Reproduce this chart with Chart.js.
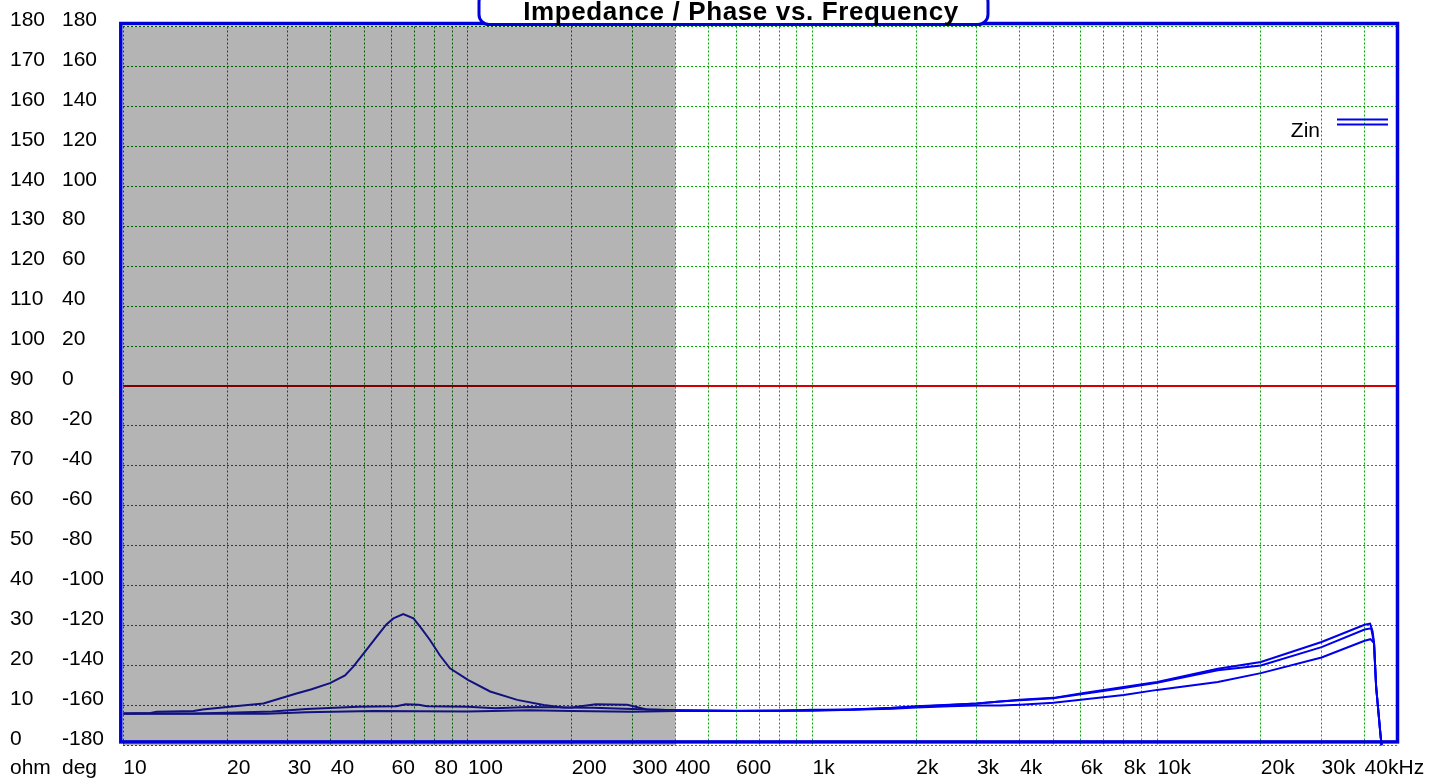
<!DOCTYPE html>
<html>
<head>
<meta charset="utf-8">
<title>Impedance / Phase vs. Frequency</title>
<script src="https://cdn.jsdelivr.net/npm/chart.js@4.4.1/dist/chart.umd.min.js"></script>
<style>
  html, body { margin: 0; padding: 0; background: #fff; overflow: hidden; }
  #wrap { width: 1429px; height: 782px; }
</style>
</head>
<body>
<div id="wrap"><canvas id="chart" width="1429" height="782"></canvas></div>
<script>
// impedance plot: three Zin sweeps (ohm) plus the phase line (deg), log frequency axis

const chartTitle = 'Impedance / Phase vs. Frequency';
const greyEnd = 400; // Hz, shaded band runs from the left edge up to here

// sweep 1 (the one with the bass resonance)
const freqA = [10, 12, 12.5, 16, 17, 20, 25.5, 31.8, 35, 39.8, 44, 46.5, 50.3, 54.3, 58, 60.8, 64.9, 69.5,
  73, 77.6, 83, 88.7, 100, 116, 139, 166, 189, 230, 300, 400, 600, 800, 1000, 1300, 1700, 2000, 2500, 3000,
  3500, 4000, 5000, 6000, 8000, 10000, 15000, 20000, 30000, 40000, 41500, 42200, 42600, 43200, 43900, 44400, 44800];
const zinA = [8.0, 8.1, 8.4, 8.6, 9.0, 9.6, 10.5, 13.0, 14.0, 15.6, 17.5, 19.7, 23.5, 27.2, 30.3, 31.8, 32.9, 31.8,
  29.5, 26.4, 22.5, 19.3, 16.4, 13.5, 11.4, 10.1, 9.5, 9.4, 9.1, 8.8, 8.7, 8.7, 8.9, 9.0, 9.4, 9.8, 10.2, 10.5,
  11.0, 11.4, 11.9, 13.0, 14.6, 15.9, 19.2, 20.9, 25.9, 30.2, 30.5, 28.5, 25.6, 14.7, 8.1, 3.4, 0];

// sweep 2
const freqB = [10, 16, 20, 27, 34, 48, 62, 66, 72, 76, 100, 120, 150, 200, 235, 290, 330, 400, 600, 1000, 1300,
  1700, 2000, 2500, 3000, 3500, 4000, 5000, 6000, 8000, 10000, 15000, 20000, 30000, 40000, 41800, 42600, 43200,
  43900, 44400, 44800];
const zinB = [8.0, 8.0, 8.2, 8.5, 9.1, 9.7, 9.8, 10.3, 10.2, 9.8, 9.7, 9.3, 9.6, 9.5, 10.3, 10.2, 9.0, 8.8, 8.6, 8.8, 9.0,
  9.3, 9.7, 10.1, 10.5, 11.0, 11.3, 11.8, 12.8, 14.4, 15.7, 18.8, 20.0, 24.6, 29.0, 29.3, 25.6, 14.7,
  8.1, 3.4, 0];

// sweep 3
const freqC = [10, 26, 34, 53, 100, 150, 200, 300, 400, 600, 1000, 1300, 1700, 2000, 2500, 3000, 3500, 4000, 5000,
  6000, 8000, 10000, 15000, 20000, 30000, 40000, 41600, 42600, 43200, 43900, 44400, 44800];
const zinC = [7.9, 7.9, 8.3, 8.6, 8.5, 8.8, 8.6, 8.4, 8.6, 8.6, 8.7, 8.9, 9.2, 9.5, 9.8, 10.0, 10.0, 10.2, 10.7,
  11.4, 12.6, 13.9, 15.9, 18.1, 22.0, 26.2, 26.6, 25.6, 14.7, 8.1, 3.4, 0];

// phase trace
const phaseFreq = [10, 50000];
const phaseDeg = [0, 0];

// axes
const freqMin = 10, freqMax = 50000;
const ohmMin = 0, ohmMax = 180, ohmStep = 10;
const degMin = -180, degMax = 180, degStep = 20;
const xGridFreqs = [10, 20, 30, 40, 50, 60, 70, 80, 90, 100, 200, 300, 400, 500, 600, 700, 800, 900,
  1000, 2000, 3000, 4000, 5000, 6000, 7000, 8000, 9000, 10000, 20000, 30000, 40000];
const xLabelFreqs = [10, 20, 30, 40, 60, 80, 100, 200, 300, 400, 600, 1000, 2000, 3000, 4000, 6000, 8000,
  10000, 20000, 30000, 40000];
const xLabelTexts = ['10', '20', '30', '40', '60', '80', '100', '200', '300', '400', '600', '1k', '2k', '3k',
  '4k', '6k', '8k', '10k', '20k', '30k', '40kHz'];

const FONT = "'Liberation Sans', Arial, sans-serif";
const greyFill = '#b4b4b4';
const gridDark = '#005c00', gridLight = '#00aa00';
const traceDark = '#12127e', traceLight = '#0000ee';
const phaseDark = '#7c0000', phaseLight = '#d20000';
const frameBlue = '#0000d8';

const toPoints = (xs, ys) => xs.map((x, i) => ({ x, y: ys[i] }));

// left of greyEnd one colour, right of it another (same as the old plot does over the grey band)
function splitStroke(chart, darkCol, lightCol) {
  const area = chart.chartArea;
  const xs = chart.scales && chart.scales.x;
  if (!area || !xs) return lightCol;
  const split = xs.getPixelForValue(greyEnd);
  const t = Math.min(Math.max((split - area.left) / (area.right - area.left), 0), 1);
  const g = chart.ctx.createLinearGradient(area.left, 0, area.right, 0);
  g.addColorStop(0, darkCol);
  g.addColorStop(t, darkCol);
  g.addColorStop(t, lightCol);
  g.addColorStop(1, lightCol);
  return g;
}

const backdrop = {
  id: 'backdrop',
  beforeDraw(chart) {
    const { ctx, chartArea: a, scales: { x } } = chart;
    ctx.save();
    ctx.fillStyle = '#fff';
    ctx.fillRect(0, 0, chart.width, chart.height);
    ctx.fillStyle = greyFill;
    ctx.fillRect(a.left, a.top, x.getPixelForValue(greyEnd) - a.left, a.bottom - a.top);
    ctx.restore();
  }
};

const decorations = {
  id: 'decorations',
  afterDraw(chart) {
    const { ctx, chartArea: a } = chart;
    ctx.save();

    // legend: label + double line sample
    ctx.font = '21px ' + FONT;
    ctx.fillStyle = '#000';
    ctx.textAlign = 'right';
    ctx.textBaseline = 'middle';
    ctx.fillText(chart.data.datasets[0].label, 1320, 131);
    ctx.strokeStyle = traceLight;
    ctx.lineWidth = 2;
    ctx.beginPath();
    ctx.moveTo(1337, 119.5); ctx.lineTo(1388, 119.5);
    ctx.moveTo(1337, 124.5); ctx.lineTo(1388, 124.5);
    ctx.stroke();

    // plot frame
    ctx.strokeStyle = frameBlue;
    ctx.lineWidth = 3.5;
    const L = a.left - 2.5, T = a.top - 3, R = a.right - 0.5, B = a.bottom - 3.5;
    ctx.strokeRect(L, T, R - L, B - T);

    // title tab
    ctx.beginPath();
    ctx.roundRect(479, -8, 509, 32.5, 10);
    ctx.fillStyle = '#fff';
    ctx.fill();
    ctx.lineWidth = 3;
    ctx.stroke();
    ctx.font = 'bold 26px ' + FONT;
    const w = ctx.measureText(chartTitle).width;
    ctx.letterSpacing = Math.max(0, (435 - w) / (chartTitle.length - 1)).toFixed(2) + 'px';
    ctx.fillStyle = '#000';
    ctx.textAlign = 'center';
    ctx.textBaseline = 'alphabetic';
    ctx.fillText(chartTitle, 741, 20);
    ctx.letterSpacing = '0px';

    // unit captions under the two value columns
    ctx.font = '21px ' + FONT;
    ctx.textAlign = 'left';
    ctx.textBaseline = 'middle';
    ctx.fillText('ohm', chart.scales.yOhm.left, 768);
    ctx.fillText('deg', chart.scales.yDeg.left, 768);
    ctx.restore();
  }
};

const lineDefaults = { pointRadius: 0, borderWidth: 2, tension: 0, fill: false, yAxisID: 'yOhm' };

new Chart(document.getElementById('chart'), {
  type: 'line',
  data: {
    datasets: [
      { ...lineDefaults, label: 'Zin', data: toPoints(freqA, zinA),
        borderColor: c => splitStroke(c.chart, traceDark, traceLight) },
      { ...lineDefaults, label: 'Zin 2', data: toPoints(freqB, zinB),
        borderColor: c => splitStroke(c.chart, traceDark, traceLight) },
      { ...lineDefaults, label: 'Zin 3', data: toPoints(freqC, zinC),
        borderColor: c => splitStroke(c.chart, traceDark, traceLight) },
      { ...lineDefaults, label: 'Phase', yAxisID: 'yDeg', borderWidth: 2, data: toPoints(phaseFreq, phaseDeg),
        borderColor: c => splitStroke(c.chart, phaseDark, phaseLight) }
    ]
  },
  options: {
    responsive: false,
    animation: false,
    events: [],
    layout: { padding: { left: 10, right: 31, top: 26.5, bottom: 0 } },
    plugins: { legend: { display: false }, tooltip: { enabled: false } },
    scales: {
      x: {
        type: 'logarithmic',
        position: 'bottom',
        min: freqMin,
        max: freqMax,
        afterBuildTicks: s => { s.ticks = xGridFreqs.map(v => ({ value: v })); },
        afterFit: s => { s.height = 36.6; s.paddingLeft = 0; s.paddingRight = 0; },
        grid: {
          drawTicks: false,
          lineWidth: 1,
          color: c => (c.tick && c.tick.value < greyEnd ? gridDark : gridLight)
        },
        border: { display: false, dash: [2, 2] },
        ticks: {
          autoSkip: false,
          maxRotation: 0,
          align: 'start',
          padding: 10,
          color: '#000',
          font: { family: FONT, size: 21 },
          callback: v => {
            const i = xLabelFreqs.indexOf(v);
            return i < 0 ? '' : xLabelTexts[i];
          }
        }
      },
      yOhm: {
        type: 'linear',
        position: 'left',
        weight: 2,
        min: ohmMin,
        max: ohmMax,
        afterFit: s => { s.width = 52; },
        grid: {
          drawTicks: false,
          lineWidth: 1,
          color: c => splitStroke(c.chart, gridDark, gridLight)
        },
        border: { display: false, dash: [2, 2] },
        ticks: {
          stepSize: ohmStep,
          autoSkip: false,
          crossAlign: 'far',
          labelOffset: -6.5,
          color: '#000',
          font: { family: FONT, size: 21 }
        }
      },
      yDeg: {
        type: 'linear',
        position: 'left',
        weight: 1,
        min: degMin,
        max: degMax,
        afterFit: s => { s.width = 61.3; },
        grid: { display: false, drawTicks: false },
        border: { display: false },
        ticks: {
          stepSize: degStep,
          autoSkip: false,
          crossAlign: 'far',
          labelOffset: -6.5,
          color: '#000',
          font: { family: FONT, size: 21 }
        }
      }
    }
  },
  plugins: [backdrop, decorations]
});
</script>
</body>
</html>
